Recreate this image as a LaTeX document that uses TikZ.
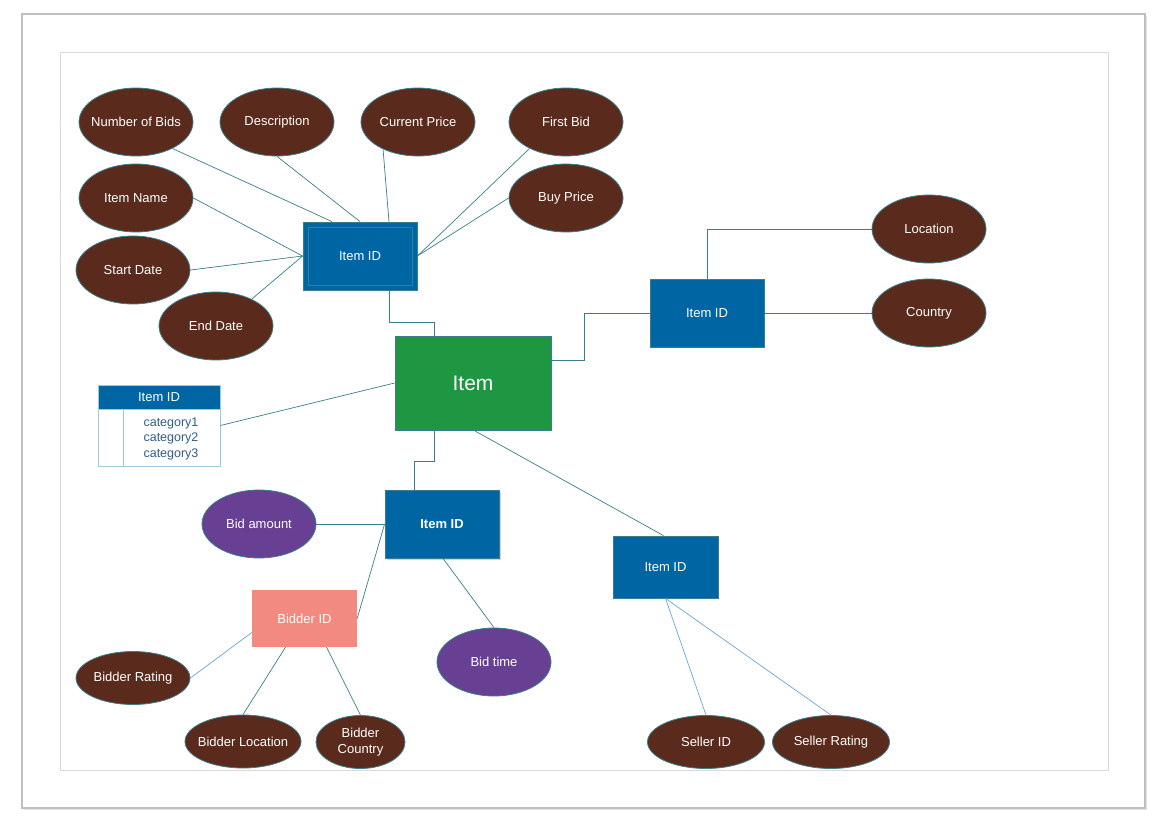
\documentclass[tikz,border=0pt]{standalone}
\usepackage{fontspec}
\setmainfont{Liberation Sans}
\usetikzlibrary{shapes.geometric}
\definecolor{entblue}{HTML}{0066A3}
\definecolor{attbrown}{HTML}{5A2A1C}
\definecolor{itemgreen}{HTML}{1F9641}
\definecolor{bidpurple}{HTML}{673F93}
\definecolor{bidsalmon}{HTML}{F28A80}
\definecolor{linkteal}{HTML}{3A7E8A}
\definecolor{linklight}{HTML}{6AA6D6}
\definecolor{tabline}{HTML}{9CCDD6}
\definecolor{tabtext}{HTML}{2F5E86}
\tikzset{
  attr/.style={ellipse, draw=linkteal, line width=0.8pt, fill=attbrown, text=white,
    minimum width=114pt, minimum height=68pt, inner xsep=-6pt, inner ysep=0pt,
    align=center, font=\fontsize{13}{16}\selectfont},
  smallattr/.style={attr, minimum height=53pt},
  bidattr/.style={attr, fill=bidpurple},
  entity/.style={rectangle, draw=linkteal, line width=0.8pt, fill=entblue, text=white,
    inner sep=0pt, font=\fontsize{13}{16}\selectfont},
  link/.style={draw=linkteal, line width=0.7pt},
  lightlink/.style={draw=linklight, line width=0.7pt},
}
\begin{document}
\begin{tikzpicture}[x=1pt, y=-1pt]
\useasboundingbox (0,0) rectangle (1163,828);
% page frame with soft shadow
\fill[black!10] (24,16) rectangle (1147,810);
\draw[black!25, line width=1.2pt, fill=white] (22,14) rectangle (1145,808);
\draw[black!15, line width=0.8pt] (60,52) rectangle (1108,770);

% central entity
\node[entity, fill=itemgreen, minimum width=156pt, minimum height=94pt,
  font=\fontsize{21}{24}\selectfont] (item) at (473,383) {Item};

% item attributes (top left)
\node[entity, minimum width=114pt, minimum height=68pt] (iid) at (360,256) {Item ID};
\draw[linkteal, line width=0.6pt] (308,227) rectangle (412,285);
\node[attr] (nob)  at (136,122) {Number of Bids};
\node[attr] (desc) at (277,122) {Description};
\node[attr] (cp)   at (418,122) {Current Price};
\node[attr] (fb)   at (566,122) {First Bid};
\node[attr] (bp)   at (566,198) {Buy Price};
\node[attr] (iname) at (136,198) {Item Name};
\node[attr] (sd)   at (133,270) {Start Date};
\node[attr] (ed)   at (216,326) {End Date};

\draw[link] (nob.324) -- ([xshift=-28pt]iid.north);
\draw[link] (desc.south) -- (iid.north);
\draw[link] (cp.218) -- ([xshift=29pt]iid.north);
\draw[link] (fb.216) -- (iid.east);
\draw[link] (bp.west) -- (iid.east);
\draw[link] (iname.east) -- (iid.west);
\draw[link] (sd.east) -- (iid.west);
\draw[link] (ed.37) -- (iid.west);
\draw[link] ([xshift=29pt]iid.south) -- ++(0,32) -| ([xshift=-39pt]item.north);

% location entity (right)
\node[entity, minimum width=114pt, minimum height=68pt] (rid) at (707,313) {Item ID};
\node[attr] (loc) at (929,229) {Location};
\node[attr] (cty) at (929,313) {Country};
\draw[link] ([yshift=23pt]item.east) -- ++(33,0) |- (rid.west);
\draw[link] (rid.north) |- (loc.west);
\draw[link] (rid.east) -- (cty.west);

% category table
\node[rectangle, fill=entblue, draw=tabline, line width=0.8pt, text=white,
  minimum width=122pt, minimum height=24pt, inner sep=0pt,
  font=\fontsize{13}{16}\selectfont] (th) at (159,397) {Item ID};
\node[rectangle, draw=tabline, line width=0.8pt, fill=white,
  minimum width=122pt, minimum height=57pt, inner sep=0pt] (tb) at (159,437.5) {};
\draw[tabline, line width=0.8pt] (123,409) -- (123,466);
\node[text=tabtext, align=left, inner sep=0pt,
  font=\fontsize{12.5}{15.5}\selectfont] (cats) at (171,438.5) {category1\\category2\\category3};
\draw[link] ([yshift=12pt]tb.east) -- (item.west);

% bid entity (bottom left)
\fill[black!18] (387,492) rectangle (501,560);
\node[entity, minimum width=114pt, minimum height=68pt,
  font=\fontsize{13}{16}\selectfont\bfseries] (bid) at (442,524) {Item ID};
\node[bidattr] (ba) at (259,524) {Bid amount};
\node[bidattr] (bt) at (494,662) {Bid time};
\node[rectangle, fill=bidsalmon, text=white, minimum width=105pt, minimum height=57pt,
  inner sep=0pt, font=\fontsize{13}{16}\selectfont] (bdr) at (304.5,618.5) {Bidder ID};
\node[smallattr] (brt) at (133,678) {Bidder Rating};
\node[smallattr, minimum width=116pt] (bl) at (243,741.5) {Bidder Location};
\node[smallattr, minimum width=89pt] (bc) at (360.5,742) {Bidder\\Country};

\draw[link] ([xshift=-39pt]item.south) -- ++(0,31) -| ([xshift=-28pt]bid.north);
\draw[link] (ba.east) -- (bid.west);
\draw[link] ([xshift=1pt]bid.south) -- (bt.north);
\draw[link] (bdr.east) -- (bid.west);
\draw[lightlink] (brt.east) -- ([yshift=-14pt]bdr.west);
\draw[link] (bl.north) -- ([xshift=-19pt]bdr.south);
\draw[link] (bc.north) -- ([xshift=22pt]bdr.south);

% seller entity (bottom right)
\node[entity, minimum width=105pt, minimum height=62pt] (sel) at (665.5,567) {Item ID};
\node[smallattr, minimum width=117pt] (sid) at (706,742) {Seller ID};
\node[smallattr, minimum width=117pt] (srt) at (831,742) {Seller Rating};
\draw[link] ([xshift=1pt]item.south) -- ([xshift=-2pt]sel.north);
\draw[lightlink] (sel.south) -- (sid.north);
\draw[lightlink] (sel.south) -- (srt.north);
\end{tikzpicture}
\end{document}
